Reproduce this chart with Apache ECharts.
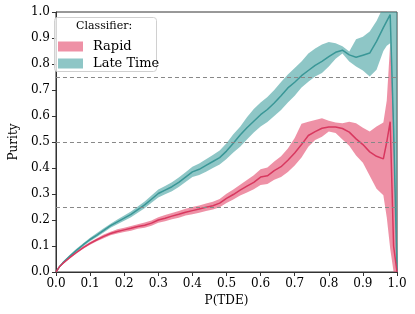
<!DOCTYPE html>
<html>
<head>
<meta charset="utf-8">
<script src="https://cdn.jsdelivr.net/npm/echarts@6/dist/echarts.min.js"></script>
<style>html,body{margin:0;padding:0;background:#fff}#c{width:415px;height:314px}</style>
</head>
<body>
<div id="c"></div>
<script>
const X = [0,0.01,0.02,0.04,0.06,0.08,0.1,0.12,0.14,0.16,0.18,0.2,0.22,0.24,0.26,0.28,0.3,0.32,0.34,0.36,0.38,0.4,0.42,0.44,0.46,0.48,0.5,0.52,0.54,0.56,0.58,0.6,0.62,0.64,0.66,0.68,0.7,0.72,0.74,0.76,0.78,0.8,0.82,0.84,0.86,0.88,0.9,0.92,0.94,0.96,0.97,0.98,0.99,1.0];

const lateMean = [0,0.02,0.035,0.06,0.083,0.105,0.125,0.142,0.16,0.178,0.193,0.207,0.222,0.24,0.258,0.28,0.302,0.315,0.328,0.345,0.365,0.385,0.395,0.41,0.425,0.44,0.465,0.495,0.527,0.555,0.58,0.605,0.625,0.65,0.678,0.708,0.73,0.755,0.775,0.795,0.81,0.828,0.845,0.853,0.835,0.826,0.834,0.842,0.887,0.94,0.965,0.99,0.55,0.0];
const lateLo = [0,0.017,0.031,0.055,0.077,0.099,0.118,0.135,0.152,0.17,0.184,0.197,0.211,0.228,0.245,0.266,0.287,0.299,0.311,0.327,0.346,0.365,0.373,0.386,0.40,0.413,0.435,0.46,0.482,0.51,0.537,0.56,0.577,0.6,0.623,0.652,0.678,0.71,0.732,0.752,0.765,0.79,0.82,0.84,0.81,0.79,0.775,0.752,0.778,0.85,0.87,0.88,0.5,0.0];
const lateHi = [0,0.023,0.039,0.065,0.089,0.111,0.132,0.15,0.168,0.186,0.202,0.217,0.233,0.252,0.271,0.294,0.317,0.331,0.345,0.363,0.384,0.405,0.417,0.434,0.45,0.467,0.495,0.53,0.559,0.595,0.627,0.652,0.673,0.7,0.731,0.76,0.785,0.81,0.84,0.86,0.875,0.885,0.88,0.868,0.848,0.895,0.905,0.925,0.965,1.02,1.04,1.06,1.06,1.06];

const rapidMean = [0,0.02,0.033,0.055,0.075,0.094,0.11,0.124,0.137,0.148,0.156,0.162,0.168,0.175,0.18,0.188,0.2,0.207,0.215,0.222,0.23,0.236,0.242,0.249,0.255,0.265,0.283,0.298,0.315,0.33,0.345,0.365,0.37,0.39,0.405,0.43,0.458,0.49,0.525,0.54,0.553,0.558,0.558,0.552,0.538,0.512,0.49,0.462,0.445,0.435,0.5,0.578,0.1,0.0];
const rapidLo = [0,0.017,0.03,0.051,0.071,0.089,0.105,0.118,0.13,0.141,0.148,0.154,0.159,0.166,0.17,0.178,0.189,0.195,0.203,0.209,0.217,0.222,0.228,0.235,0.24,0.249,0.265,0.279,0.294,0.306,0.318,0.335,0.338,0.355,0.365,0.385,0.41,0.44,0.482,0.508,0.52,0.54,0.535,0.51,0.486,0.448,0.42,0.37,0.32,0.295,0.21,0.09,0.0,0.0];
const rapidHi = [0,0.023,0.036,0.059,0.079,0.099,0.115,0.13,0.144,0.155,0.164,0.17,0.177,0.184,0.19,0.198,0.211,0.219,0.227,0.235,0.243,0.25,0.256,0.263,0.27,0.281,0.301,0.317,0.336,0.354,0.372,0.395,0.402,0.425,0.445,0.475,0.515,0.57,0.578,0.585,0.591,0.582,0.575,0.572,0.578,0.572,0.555,0.54,0.56,0.575,0.66,0.88,0.6,0.0];

const xTicks = ['0.0','0.1','0.2','0.3','0.4','0.5','0.6','0.7','0.8','0.9','1.0'];
const refLines = [0.25,0.5,0.75];

const RED_LINE = '#d8385f', RED_FILL = 'rgba(226,72,106,0.6)';
const TEAL_LINE = '#3a9797', TEAL_FILL = 'rgba(60,156,156,0.58)';
const FONT = 'DejaVu Serif';

function pts(ys){ return X.map((x,i)=>[x, ys[i]]); }

function bandSeries(name, lo, hi, fill){
  return {
    name:name, type:'custom', clip:true, silent:true,
    itemStyle:{color:fill},
    data:[[0,0]],
    encode:{x:0,y:1},
    renderItem:function(params, api){
      const poly = [];
      for (let i=0;i<X.length;i++) poly.push(api.coord([X[i], hi[i]]));
      for (let i=X.length-1;i>=0;i--) poly.push(api.coord([X[i], lo[i]]));
      const cs = params.coordSys;
      return {type:'polygon', shape:{points:poly}, style:{fill:fill},
        clipPath:{type:'rect', shape:{x:cs.x, y:cs.y, width:cs.width, height:cs.height}}};
    }
  };
}

const chart = echarts.init(document.getElementById('c'), null, {renderer:'canvas'});
chart.setOption({
  animation:false,
  grid:{left:48,right:18,top:12,bottom:42,show:true,borderColor:'#333',borderWidth:1,backgroundColor:'transparent'},
  xAxis:{type:'value',min:0,max:1,interval:0.1,
    name:'P(TDE)',nameLocation:'middle',nameGap:21,
    nameTextStyle:{fontFamily:FONT,fontSize:12,color:'#000'},
    axisLine:{show:true,lineStyle:{color:'#333'}},
    axisTick:{show:true,length:4,lineStyle:{color:'#333'}},
    axisLabel:{fontFamily:FONT,fontSize:12,color:'#000',margin:6,formatter:v=>xTicks[Math.round(v*10)]},
    splitLine:{show:false}},
  yAxis:{type:'value',min:0,max:1,interval:0.1,
    name:'Purity',nameLocation:'middle',nameGap:32,
    nameTextStyle:{fontFamily:FONT,fontSize:12,color:'#000'},
    axisLine:{show:true,lineStyle:{color:'#333'}},
    axisTick:{show:true,length:4,lineStyle:{color:'#333'}},
    axisLabel:{fontFamily:FONT,fontSize:12,color:'#000',margin:6,formatter:v=>v.toFixed(1)},
    splitLine:{show:false}},
  legend:{orient:'vertical',left:53,top:35,z:10,itemWidth:25,itemHeight:10,itemGap:4,
    textStyle:{fontFamily:FONT,fontSize:13,color:'#000',padding:[0,0,0,5]},
    data:[{name:'Rapid',icon:'rect',itemStyle:{color:RED_FILL,borderColor:RED_FILL}},
          {name:'Late Time',icon:'rect',itemStyle:{color:TEAL_FILL,borderColor:TEAL_FILL}}]},
  graphic:[
    {type:'rect',left:54,top:17,z:5,shape:{width:102,height:54,r:3},style:{fill:'rgba(255,255,255,0.8)',stroke:'#d0d0d0',lineWidth:1}},
    {type:'text',left:76,top:21,z:11,style:{text:'Classifier:',fontFamily:FONT,fontSize:11,fill:'#000'}}
  ],
  series:[
    bandSeries('Late Time', lateLo, lateHi, TEAL_FILL),
    bandSeries('Rapid', rapidLo, rapidHi, RED_FILL),
    {name:'lateMean',type:'line',data:pts(lateMean),showSymbol:false,lineStyle:{color:TEAL_LINE,width:1.5},silent:true},
    {name:'rapidMean',type:'line',data:pts(rapidMean),showSymbol:false,lineStyle:{color:RED_LINE,width:1.5},silent:true,
      markLine:{silent:true,symbol:['none','none'],label:{show:false},
        lineStyle:{color:'#888',type:[4,3],width:1},
        data:refLines.map(v=>({yAxis:v}))}}
  ]
});
</script>
</body>
</html>
